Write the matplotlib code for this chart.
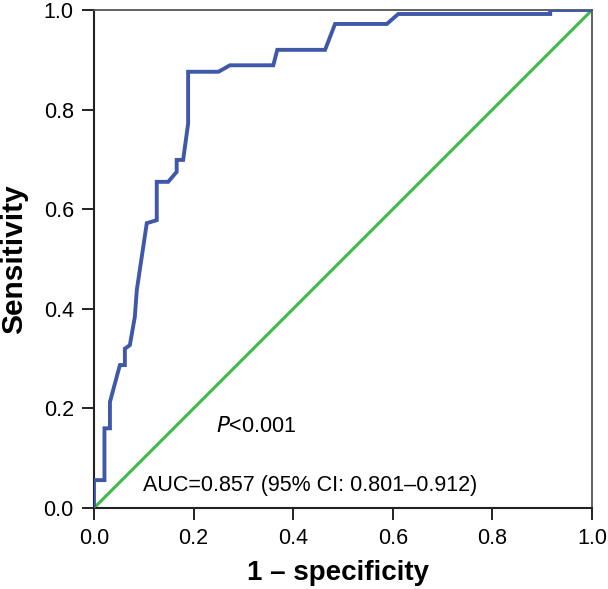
import matplotlib
matplotlib.use("Agg")
import matplotlib.pyplot as plt

plt.rcParams['font.family'] = ['Liberation Sans', 'DejaVu Sans']

# ROC curve points (1 - specificity, sensitivity)
fpr = [0.0, 0.0, 0.021, 0.021, 0.032, 0.032, 0.052, 0.062, 0.062, 0.072,
       0.082, 0.086, 0.106, 0.126, 0.126, 0.149, 0.166, 0.166, 0.179, 0.189,
       0.189, 0.25, 0.273, 0.36, 0.368, 0.464, 0.484, 0.588, 0.611, 0.916,
       0.916, 1.0]
tpr = [0.0, 0.056, 0.056, 0.16, 0.16, 0.213, 0.287, 0.287, 0.32, 0.327,
       0.384, 0.438, 0.572, 0.578, 0.655, 0.655, 0.675, 0.699, 0.699, 0.772,
       0.876, 0.876, 0.889, 0.889, 0.92, 0.92, 0.972, 0.972, 0.992, 0.992,
       1.0, 1.0]
ref_x = [0.0, 1.0]
ref_y = [0.0, 1.0]
ticks = [0.0, 0.2, 0.4, 0.6, 0.8, 1.0]

fig = plt.figure(figsize=(6.08, 5.89), dpi=100)
ax = fig.add_axes([0.1546, 0.1375, 0.8191, 0.8455])

ax.plot(ref_x, ref_y, color="#3dbb47", lw=2.2, zorder=2)
ax.plot(fpr, tpr, color="#3f58a8", lw=2.8, zorder=3, solid_joinstyle="miter")

ax.set_xlim(0, 1)
ax.set_ylim(0, 1)
ax.set_xticks(ticks)
ax.set_yticks(ticks)
ax.set_xticklabels([f"{t:.1f}" for t in ticks])
ax.set_yticklabels([f"{t:.1f}" for t in ticks])
ax.tick_params(direction="out", length=8.5, width=1.4, labelsize=15.5, pad=6, color="#222222")

for side in ["left", "bottom"]:
    ax.spines[side].set_linewidth(1.5)
    ax.spines[side].set_color("#222222")
for side in ["top", "right"]:
    ax.spines[side].set_linewidth(1.3)
    ax.spines[side].set_color("#555555")

ax.set_xlabel("1 – specificity", fontsize=20, fontweight="bold", va="top")
ax.xaxis.set_label_coords(0.49, -0.105)
ax.set_ylabel("Sensitivity", fontsize=21.5, fontweight="bold")
ax.yaxis.set_label_coords(-0.133, 0.5)

ax.text(0.326, 0.163, r"$\it{P}$<0.001", fontsize=15.5, ha="center", va="center")
ax.text(0.434, 0.046, "AUC=0.857 (95% CI: 0.801–0.912)", fontsize=15.5, ha="center", va="center")

fig.savefig("out.png", dpi=100)
